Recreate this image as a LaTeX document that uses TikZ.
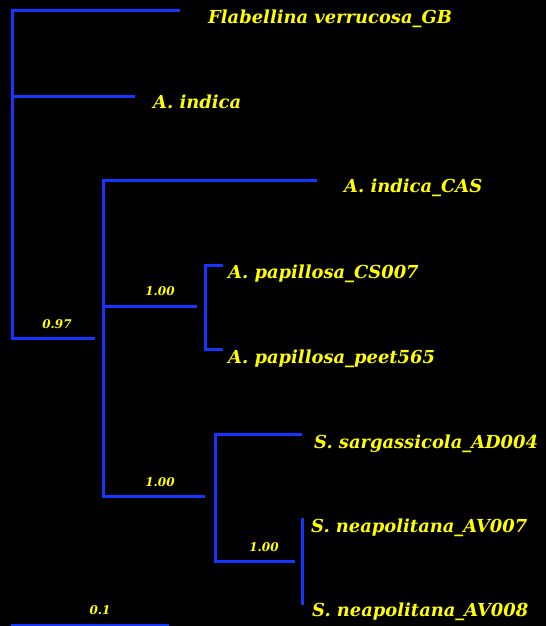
\documentclass[tikz,border=0pt]{standalone}
\usepackage{fontspec}
\setmainfont{DejaVu Serif}
\definecolor{treeblue}{RGB}{20,55,255}
\definecolor{labyellow}{RGB}{255,255,0}
\begin{document}
\begin{tikzpicture}[x=1pt,y=-1pt,
  branch/.style={draw=treeblue,line width=3pt,line cap=rect},
  taxon/.style={text=labyellow,font=\fontsize{17.9}{22}\selectfont\bfseries\itshape,anchor=base west,inner sep=0pt},
  support/.style={text=labyellow,font=\fontsize{12}{14}\selectfont\bfseries\itshape,anchor=base,inner sep=0pt}]
\fill[black] (0,0) rectangle (546,626);
\useasboundingbox (0,0) rectangle (546,626);
% coordinates
\coordinate (rt) at (12,11);
\coordinate (rb) at (12,338);
\coordinate (flab) at (178,11);
\coordinate (ind) at (133,96);
\coordinate (rm) at (12,96);
\coordinate (n1e) at (93,338);
\coordinate (v1t) at (103,180);
\coordinate (v1b) at (103,496);
\coordinate (cas) at (315,180);
\coordinate (v1m) at (103,306);
\coordinate (n2e) at (195,306);
\coordinate (v2t) at (205,265);
\coordinate (v2b) at (205,349);
\coordinate (pcs) at (221,265);
\coordinate (ppe) at (221,349);
\coordinate (n3e) at (203,496);
\coordinate (v3t) at (215,434);
\coordinate (v3b) at (215,561);
\coordinate (sar) at (300,434);
\coordinate (n4e) at (293,561);
\coordinate (v4t) at (302,519);
\coordinate (v4b) at (302,603);
\coordinate (sbl) at (12,625);
\coordinate (sbr) at (167,625);
% branches
\draw[branch] (flab) -- (rt) -- (rb) -- (n1e);
\draw[branch] (rm) -- (ind);
\draw[branch] (cas) -- (v1t) -- (v1b) -- (n3e);
\draw[branch] (v1m) -- (n2e);
\draw[branch] (pcs) -- (v2t) -- (v2b) -- (ppe);
\draw[branch] (sar) -- (v3t) -- (v3b) -- (n4e);
\draw[branch] (v4t) -- (v4b);
\draw[branch] (sbl) -- (sbr);
% taxa
\node[taxon] (tflab) at (208,24) {Flabellina verrucosa\_GB};
\node[taxon] (tind) at (153,108) {A. indica};
\node[taxon] (tcas) at (344,192) {A. indica\_CAS};
\node[taxon] (tpcs) at (228,278) {A. papillosa\_CS007};
\node[taxon] (tppe) at (228,363) {A. papillosa\_peet565};
\node[taxon] (tsar) at (314,448) {S. sargassicola\_AD004};
\node[taxon] (tav7) at (311,532) {S. neapolitana\_AV007};
\node[taxon] (tav8) at (312,616) {S. neapolitana\_AV008};
% support values
\node[support] (s1) at (57,328) {0.97};
\node[support] (s2) at (160,295) {1.00};
\node[support] (s3) at (160,486) {1.00};
\node[support] (s4) at (264,551) {1.00};
\node[support] (sc) at (100,614) {0.1};
\end{tikzpicture}
\end{document}
